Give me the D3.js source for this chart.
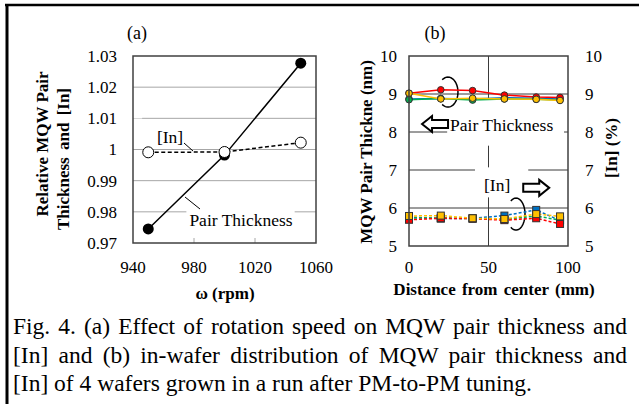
<!DOCTYPE html>
<html>
<head>
<meta charset="utf-8">
<script src="https://cdn.jsdelivr.net/npm/d3@7"></script>
<style>
  body { margin: 0; background: #fff; }
  svg { display: block; }
</style>
</head>
<body>
<svg id="fig" width="639" height="404"></svg>
<script>
// (a) rotation speed vs relative values
const rpm = [950, 1000, 1050];
const relThickness = [0.9745, 0.9982, 1.0277];
const relIn = [0.9991, 0.9992, 1.0022];
const rpmTicks = [940, 980, 1020, 1060];
const relTicks = [0.97, 0.98, 0.99, 1, 1.01, 1.02, 1.03];

// (b) in-wafer distribution, 4 wafers
const distance = [0, 20, 40, 60, 80, 95];
const wafers = ["blue", "green", "red", "yellow"];
const thickBlue = [8.87, 8.88, 8.87, 8.9, 8.89, 8.87];
const thickGreen = [8.85, 8.88, 8.84, 8.87, 8.86, 8.84];
const thickRed = [9.02, 9.11, 9.09, 8.97, 8.92, 8.91];
const thickYellow = [9.02, 8.87, 8.89, 8.87, 8.86, 8.83];
const inBlue = [5.76, 5.72, 5.73, 5.8, 5.95, 5.67];
const inGreen = [5.74, 5.74, 5.72, 5.7, 5.79, 5.68];
const inRed = [5.69, 5.73, 5.72, 5.68, 5.73, 5.58];
const inYellow = [5.79, 5.8, 5.73, 5.71, 5.84, 5.78];
const distTicks = [0, 50, 100];
const nmTicks = [5, 6, 7, 8, 9, 10];

const captionLines = [
    "Fig. 4. (a) Effect of rotation speed on MQW pair thickness and",
    "[In] and (b) in-wafer distribution of MQW pair thickness and",
    "[In] of 4 wafers grown in a run after PM-to-PM tuning."
];

const waferColor = { blue: "#0070c0", green: "#00b050", red: "#ff0000", yellow: "#ffc000" };
const thickData = { blue: thickBlue, green: thickGreen, red: thickRed, yellow: thickYellow };
const inData = { blue: inBlue, green: inGreen, red: inRed, yellow: inYellow };

const FONT = "'Liberation Serif'";
const svg = d3.select("#fig");

// outer frame (top + left only, as cropped)
svg.append("line").attr("x1", 5).attr("x2", 639).attr("y1", 5).attr("y2", 5)
    .attr("stroke", "#000").attr("stroke-width", 2.5);
svg.append("line").attr("x1", 7).attr("x2", 7).attr("y1", 4).attr("y2", 404)
    .attr("stroke", "#000").attr("stroke-width", 3);

// ---------- panel (a) ----------
const xa = d3.scaleLinear().domain([940, 1060]).range([133, 316]);
const ya = d3.scaleLinear().domain([0.97, 1.03]).range([243, 56]);

const ga = svg.append("g");

ga.append("g").selectAll("line")
    .data(relTicks.slice(1, -1))
    .enter().append("line")
    .attr("x1", xa(940)).attr("x2", xa(1060))
    .attr("y1", d => ya(d)).attr("y2", d => ya(d))
    .attr("stroke", "#a6a6a6").attr("stroke-width", 1);

// small inside ticks on x axis
ga.append("g").selectAll("line")
    .data(rpmTicks.slice(1, -1))
    .enter().append("line")
    .attr("x1", d => xa(d)).attr("x2", d => xa(d))
    .attr("y1", ya(0.97)).attr("y2", ya(0.97) - 5)
    .attr("stroke", "#a6a6a6");

// label boxes hide grid lines
ga.append("rect").attr("x", xa(975)).attr("y", ya(0.9825)).attr("width", xa(1046) - xa(975))
    .attr("height", ya(0.9755) - ya(0.9825)).attr("fill", "#fff");
ga.append("rect").attr("x", xa(940)).attr("y", ya(1.0106)).attr("width", xa(946) - xa(940))
    .attr("height", 2).attr("fill", "#fff");

ga.append("path")
    .datum(rpm.map((r, i) => [r, relThickness[i]]))
    .attr("d", d3.line().x(d => xa(d[0])).y(d => ya(d[1])))
    .attr("fill", "none").attr("stroke", "#000").attr("stroke-width", 1.5);

ga.append("path")
    .datum(rpm.map((r, i) => [r, relIn[i]]))
    .attr("d", d3.line().x(d => xa(d[0])).y(d => ya(d[1])))
    .attr("fill", "none").attr("stroke", "#000").attr("stroke-width", 1.5)
    .attr("stroke-dasharray", "4,2.5");

ga.append("g").selectAll("circle")
    .data(rpm.map((r, i) => [r, relThickness[i]]))
    .enter().append("circle")
    .attr("cx", d => xa(d[0])).attr("cy", d => ya(d[1])).attr("r", 5.5)
    .attr("fill", "#000");

ga.append("g").selectAll("circle")
    .data(rpm.map((r, i) => [r, relIn[i]]))
    .enter().append("circle")
    .attr("cx", d => xa(d[0])).attr("cy", d => ya(d[1])).attr("r", 5.5)
    .attr("fill", "#fff").attr("stroke", "#000").attr("stroke-width", 1);

ga.append("rect")
    .attr("x", xa(940)).attr("y", ya(1.03))
    .attr("width", xa(1060) - xa(940)).attr("height", ya(0.97) - ya(1.03))
    .attr("fill", "none").attr("stroke", "#404040").attr("stroke-width", 1.5);

// annotations (a)
ga.append("text").attr("x", 170).attr("y", 143).attr("text-anchor", "middle")
    .style("font-size", "17.5px").text("[In]");
ga.append("line").attr("x1", 184).attr("y1", 143).attr("x2", 193).attr("y2", 151)
    .attr("stroke", "#000");
ga.append("text").attr("x", 241).attr("y", 226).attr("text-anchor", "middle")
    .style("font-size", "17.5px").text("Pair Thickness");
ga.append("line").attr("x1", 185).attr("y1", 197).attr("x2", 200).attr("y2", 209)
    .attr("stroke", "#000");

// axes labels (a)
ga.append("g").selectAll("text")
    .data(relTicks)
    .enter().append("text")
    .attr("x", 117).attr("y", d => ya(d)).attr("dy", "0.35em")
    .attr("text-anchor", "end").style("font-size", "17px")
    .text(d => d3.format("")(+d.toFixed(2)));

ga.append("g").selectAll("text")
    .data(rpmTicks)
    .enter().append("text")
    .attr("x", d => xa(d)).attr("y", 267).attr("dy", "0.35em")
    .attr("text-anchor", "middle").style("font-size", "17px")
    .text(d => d);

ga.append("text").attr("x", 225).attr("y", 293).attr("dy", "0.35em")
    .attr("text-anchor", "middle").style("font-size", "17px").style("font-weight", "bold")
    .text("ω (rpm)");

ga.append("text").attr("transform", "translate(42,144) rotate(-90)").attr("dy", "0.35em")
    .attr("text-anchor", "middle").style("font-size", "17px").style("font-weight", "bold")
    .text("Relative MQW Pair");
ga.append("text").attr("transform", "translate(63,159) rotate(-90)").attr("dy", "0.35em")
    .attr("text-anchor", "middle").style("font-size", "17px").style("font-weight", "bold")
    .style("word-spacing", "3px")
    .text("Thickness and [In]");

ga.append("text").attr("x", 137).attr("y", 33).attr("dy", "0.35em")
    .attr("text-anchor", "middle").style("font-size", "18px").text("(a)");

// ---------- panel (b) ----------
const xb = d3.scaleLinear().domain([0, 100]).range([409, 568]);
const yb = d3.scaleLinear().domain([5, 10]).range([246, 56]);

const gb = svg.append("g");

gb.append("g").selectAll("line")
    .data(nmTicks.slice(1, -1))
    .enter().append("line")
    .attr("x1", xb(0)).attr("x2", xb(100))
    .attr("y1", d => yb(d)).attr("y2", d => yb(d))
    .attr("stroke", "#3a3a3a").attr("stroke-width", 1);
gb.append("line")
    .attr("x1", xb(50)).attr("x2", xb(50)).attr("y1", yb(10)).attr("y2", yb(5))
    .attr("stroke", "#3a3a3a").attr("stroke-width", 1);

// white boxes of the text annotations
gb.append("rect").attr("x", xb(24)).attr("y", yb(8.85)).attr("width", xb(97.5) - xb(24))
    .attr("height", yb(7.64) - yb(8.85)).attr("fill", "#fff");
gb.append("rect").attr("x", xb(41.5)).attr("y", yb(7.07)).attr("width", xb(75) - xb(41.5))
    .attr("height", yb(6.28) - yb(7.07)).attr("fill", "#fff");

function blockArrow(tipX, cy, dir) {
    // dir = -1 points left, 1 points right
    const len = 26, head = 10, hh = 8, bh = 4;
    const p = d3.path();
    p.moveTo(tipX, cy);
    p.lineTo(tipX - dir * head, cy - hh);
    p.lineTo(tipX - dir * head, cy - bh);
    p.lineTo(tipX - dir * len, cy - bh);
    p.lineTo(tipX - dir * len, cy + bh);
    p.lineTo(tipX - dir * head, cy + bh);
    p.lineTo(tipX - dir * head, cy + hh);
    p.closePath();
    return p.toString();
}

gb.append("path").attr("d", blockArrow(xb(8.2), yb(8.21), -1))
    .attr("fill", "#fff").attr("stroke", "#000").attr("stroke-width", 2);
gb.append("path").attr("d", blockArrow(xb(88.2), yb(6.53), 1))
    .attr("fill", "#fff").attr("stroke", "#000").attr("stroke-width", 2);

gb.append("text").attr("x", xb(25.8)).attr("y", yb(8.18)).attr("dy", "0.35em")
    .style("font-size", "17.5px").text("Pair Thickness");
gb.append("text").attr("x", xb(47.2)).attr("y", yb(6.62)).attr("dy", "0.35em")
    .style("font-size", "17.5px").text("[In]");

// bracket arcs
function bracket(cx, cy, rx, ry) {
    const pts = d3.range(-125, 126, 5).map(a => {
        const t = a * Math.PI / 180;
        return [cx + rx * Math.cos(t), cy + ry * Math.sin(t)];
    });
    return d3.line()(pts);
}
gb.append("path").attr("d", bracket(xb(24.5), yb(9.05), 10, 15))
    .attr("fill", "none").attr("stroke", "#000").attr("stroke-width", 1.5);
gb.append("path").attr("d", bracket(xb(67.3), yb(5.84), 9, 16))
    .attr("fill", "none").attr("stroke", "#000").attr("stroke-width", 1.5);

const lineB = d3.line().x((d, i) => xb(distance[i])).y(d => yb(d));

wafers.forEach(w => {
    gb.append("path").datum(thickData[w]).attr("d", lineB)
        .attr("fill", "none").attr("stroke", waferColor[w]).attr("stroke-width", 1.5);
    gb.append("path").datum(inData[w]).attr("d", lineB)
        .attr("fill", "none").attr("stroke", waferColor[w]).attr("stroke-width", 1.5)
        .attr("stroke-dasharray", "3,2");
});

wafers.forEach(w => {
    gb.append("g").selectAll("circle")
        .data(thickData[w])
        .enter().append("circle")
        .attr("cx", (d, i) => xb(distance[i])).attr("cy", d => yb(d)).attr("r", 3.3)
        .attr("fill", waferColor[w]).attr("stroke", "#333").attr("stroke-width", 1);
    gb.append("g").selectAll("rect")
        .data(inData[w])
        .enter().append("rect")
        .attr("x", (d, i) => xb(distance[i]) - 3.5).attr("y", d => yb(d) - 3.5)
        .attr("width", 7).attr("height", 7)
        .attr("fill", waferColor[w]).attr("stroke", "#333").attr("stroke-width", 1);
});

gb.append("rect")
    .attr("x", xb(0)).attr("y", yb(10))
    .attr("width", xb(100) - xb(0)).attr("height", yb(5) - yb(10))
    .attr("fill", "none").attr("stroke", "#404040").attr("stroke-width", 1.5);

gb.append("g").selectAll("text")
    .data(nmTicks)
    .enter().append("text")
    .attr("x", 397).attr("y", d => yb(d)).attr("dy", "0.35em")
    .attr("text-anchor", "end").style("font-size", "17px").text(d => d);
gb.append("g").selectAll("text")
    .data(nmTicks)
    .enter().append("text")
    .attr("x", 585).attr("y", d => yb(d)).attr("dy", "0.35em")
    .attr("text-anchor", "start").style("font-size", "17px").text(d => d);
gb.append("g").selectAll("text")
    .data(distTicks)
    .enter().append("text")
    .attr("x", d => xb(d)).attr("y", 267).attr("dy", "0.35em")
    .attr("text-anchor", "middle").style("font-size", "17px").text(d => d);

gb.append("text").attr("x", 494).attr("y", 289).attr("dy", "0.35em")
    .attr("text-anchor", "middle").style("font-size", "17px").style("font-weight", "bold")
    .style("word-spacing", "2px")
    .text("Distance from center (mm)");
gb.append("text").attr("transform", "translate(366,152) rotate(-90)").attr("dy", "0.35em")
    .attr("text-anchor", "middle").style("font-size", "17px").style("font-weight", "bold")
    .text("MQW Pair Thickne (nm)");
gb.append("text").attr("transform", "translate(611,148) rotate(-90)").attr("dy", "0.35em")
    .attr("text-anchor", "middle").style("font-size", "17px").style("font-weight", "bold")
    .text("[In] (%)");

gb.append("text").attr("x", 435).attr("y", 33).attr("dy", "0.35em")
    .attr("text-anchor", "middle").style("font-size", "18px").text("(b)");

// ---------- caption ----------
const cap = svg.append("g");
captionLines.forEach((line, i) => {
    cap.append("text")
        .attr("x", 13).attr("y", 334 + i * 28.5)
        .style("font-size", "23.5px").text(line);
});

// font on every text, then justify caption lines
svg.selectAll("text").style("font-family", FONT);
cap.selectAll("text").each(function(line, i) {
    if (i < captionLines.length - 1) {
        const natural = this.getComputedTextLength();
        const spaces = captionLines[i].split(" ").length - 1;
        d3.select(this).style("word-spacing", Math.max(0, (627 - 13 - natural) / spaces) + "px");
    }
});
</script>
</body>
</html>
